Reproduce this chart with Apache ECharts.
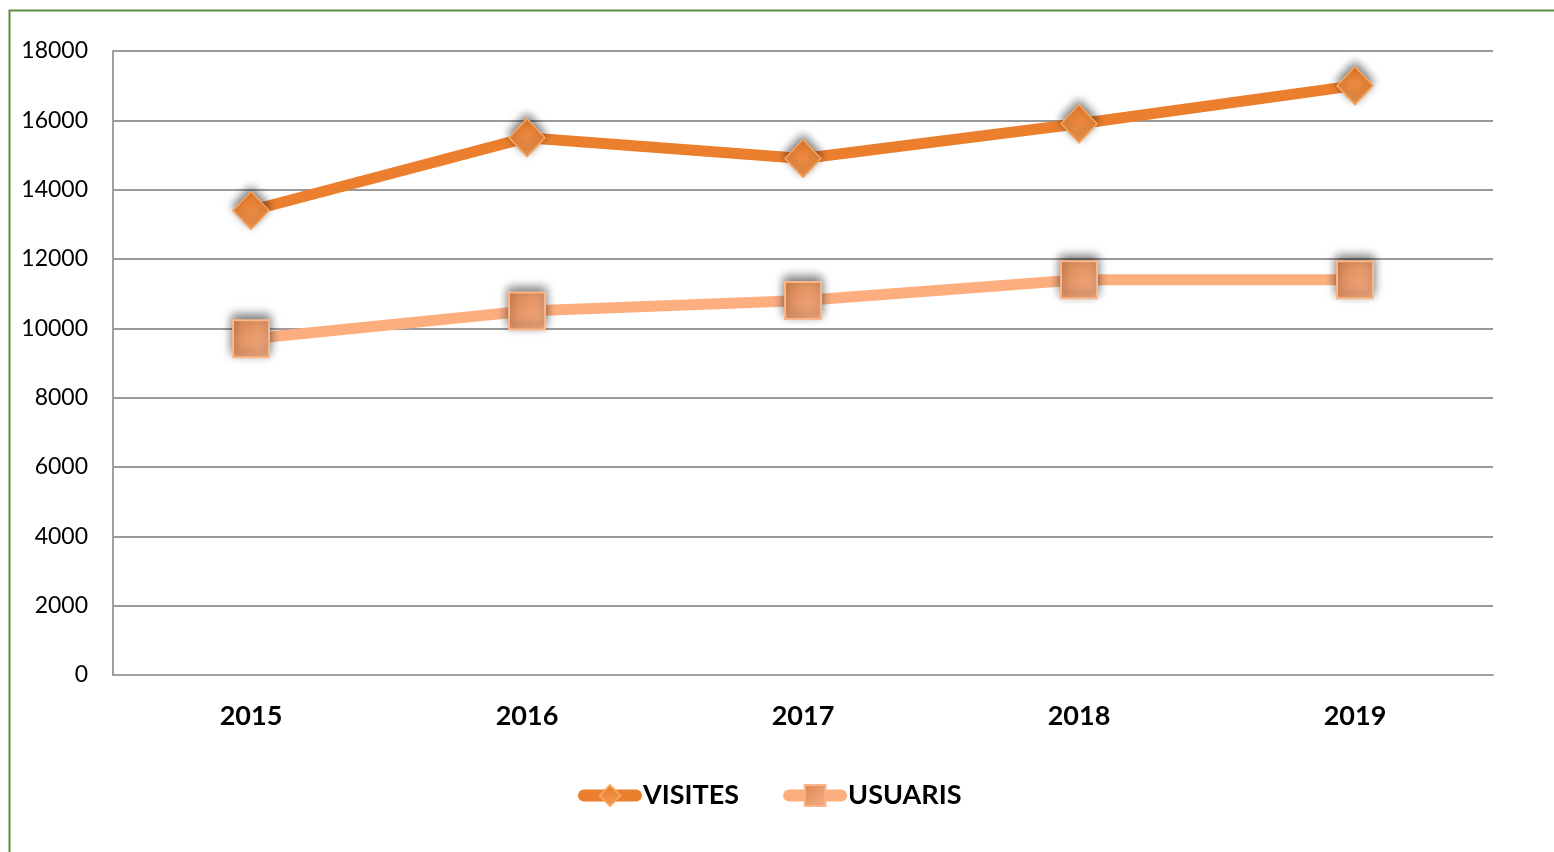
<!DOCTYPE html>
<html>
<head>
<meta charset="utf-8">
<script src="https://cdn.jsdelivr.net/npm/echarts@6/dist/echarts.min.js"></script>
<style>
  html, body { margin: 0; padding: 0; background: #fff; }
  #main { width: 1554px; height: 852px; }
</style>
</head>
<body>
<div id="main"></div>
<script>
// dades llegides del gràfic
var years = ["2015", "2016", "2017", "2018", "2019"];
var visites = [13400, 15500, 14900, 15900, 17000];
var usuaris = [9700, 10500, 10800, 11400, 11400];
var yTicks = [0, 2000, 4000, 6000, 8000, 10000, 12000, 14000, 16000, 18000];

var chart = echarts.init(document.getElementById("main"));

var fontName = "Lato, 'Open Sans', sans-serif";

chart.setOption({
	animation: false,
	graphic: [{
		type: "rect",
		shape: { x: 9.5, y: 10.5, width: 2000, height: 2000 },
		style: { fill: "none", stroke: "#5b8f3f", lineWidth: 2 }
	}],
	grid: { left: 113, right: 61, top: 51, bottom: 177 },
	legend: {
		bottom: 38,
		left: 573,
		itemWidth: 52,
		itemHeight: 26,
		itemGap: 44,
		lineStyle: { width: 12, cap: "round" },
		textStyle: { fontSize: 27, fontWeight: "bold", color: "#000", fontFamily: fontName, padding: [0, 0, 0, 2] },
		data: ["VISITES", "USUARIS"]
	},
	xAxis: {
		type: "category",
		data: years,
		boundaryGap: true,
		axisLine: { lineStyle: { color: "#a0a0a0", width: 2 } },
		axisTick: { show: false },
		axisLabel: { fontSize: 27, fontWeight: "bold", color: "#000", margin: 28, fontFamily: fontName }
	},
	yAxis: {
		type: "value",
		min: yTicks[0],
		max: yTicks[yTicks.length - 1],
		interval: 2000,
		axisLine: { show: true, lineStyle: { color: "#a0a0a0", width: 2 } },
		axisTick: { show: false },
		axisLabel: {
			fontSize: 23, color: "#000", margin: 25, fontFamily: fontName,
			formatter: function (v) { return String(v); }
		},
		splitLine: { lineStyle: { color: "#9a9a9a", width: 2 } }
	},
	series: [{
		name: "VISITES",
		type: "line",
		data: visites,
		symbol: "diamond",
		symbolSize: [36, 38],
		lineStyle: { color: "#ec7f2e", width: 11 },
		itemStyle: {
			color: new echarts.graphic.LinearGradient(0, 0, 0, 1, [
				{ offset: 0, color: "#e67a2c" },
				{ offset: 1, color: "#f59a52" }
			]),
			borderColor: "#f8a55e",
			borderWidth: 1.5,
			shadowBlur: 10,
			shadowColor: "rgba(0,0,0,0.55)",
			shadowOffsetY: -4
		},
		z: 3
	}, {
		name: "USUARIS",
		type: "line",
		data: usuaris,
		symbol: "rect",
		symbolSize: [36, 37],
		lineStyle: { color: "#fdae7f", width: 11 },
		itemStyle: {
			color: new echarts.graphic.LinearGradient(0, 0, 1, 1, [
				{ offset: 0, color: "#d98552" },
				{ offset: 1, color: "#f8b085" }
			]),
			borderColor: "#fbb688",
			borderWidth: 2,
			shadowBlur: 10,
			shadowColor: "rgba(0,0,0,0.55)",
			shadowOffsetY: -4
		},
		z: 2
	}]
});
</script>
</body>
</html>
